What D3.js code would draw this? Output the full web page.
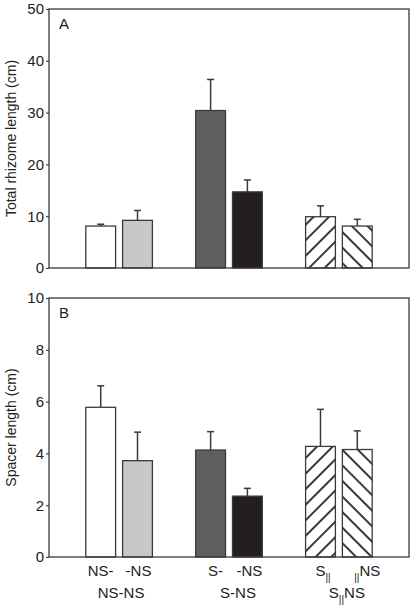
<!DOCTYPE html>
<html><head><meta charset="utf-8">
<script src="https://cdn.jsdelivr.net/npm/d3@7/dist/d3.min.js"></script>
<style>body{margin:0;background:#fff}svg{display:block;font-family:"Liberation Sans",Arial,sans-serif}</style>
</head><body>
<svg id="c" width="411" height="606"></svg>
<script>
const groups = ["NS-NS", "S-NS", "S||NS"];
const members = ["left", "right"];
const fills = ["#ffffff", "#c8c8ca", "#5e5f61", "#231f20", "url(#hatchF)", "url(#hatchB)"];
const valuesA = [8.1, 9.2, 30.4, 14.7, 9.9, 8.1];
const errA = [0.35, 1.9, 6.0, 2.3, 2.1, 1.3];
const valuesB = [5.78, 3.72, 4.13, 2.35, 4.27, 4.15];
const errB = [0.83, 1.1, 0.71, 0.3, 1.43, 0.72];
const ticksA = [0, 10, 20, 30, 40, 50];
const ticksB = [0, 2, 4, 6, 8, 10];

const svg = d3.select("#c");
const defs = svg.append("defs");
[["hatchF", 45], ["hatchB", -45]].forEach(([id, ang]) => {
  const p = defs.append("pattern").attr("id", id).attr("patternUnits", "userSpaceOnUse")
    .attr("width", 11).attr("height", 11).attr("patternTransform", `rotate(${ang})`);
  p.append("rect").attr("width", 11).attr("height", 11).attr("fill", "#fff");
  p.append("line").attr("x1", 1).attr("x2", 1).attr("y1", 0).attr("y2", 11)
    .attr("stroke", "#222").attr("stroke-width", 1.8);
});

const x0 = d3.scaleBand().domain(groups).range([49, 409]).paddingInner(0.394).paddingOuter(0.335);
const x1 = d3.scaleBand().domain(members).range([0, x0.bandwidth()]).paddingInner(0.19).paddingOuter(0);
const barX = i => x0(groups[Math.floor(i / 2)]) + x1(members[i % 2]);

function panel(top, bottom, max, ticks, vals, errs, letter, ylabel) {
  const y = d3.scaleLinear().domain([0, max]).range([bottom, top]);
  const g = svg.append("g");
  const ax = g.append("g").attr("transform", "translate(49,0)")
    .call(d3.axisLeft(y).tickValues(ticks).tickSize(3).tickPadding(2));
  ax.select(".domain").remove();
  ax.selectAll(".tick line").attr("stroke", "#444").attr("stroke-width", 1.2);
  ax.selectAll(".tick text").attr("font-size", 15).attr("fill", "#222")
    .attr("font-family", '"Liberation Sans",Arial,sans-serif');
  const idx = d3.range(vals.length);
  g.selectAll(".bar").data(idx).join("rect")
    .attr("x", i => barX(i)).attr("width", x1.bandwidth())
    .attr("y", i => y(vals[i])).attr("height", i => y(0) - y(vals[i]))
    .attr("fill", i => fills[i]).attr("stroke", "#3a3a3a").attr("stroke-width", 1.3);
  const cx = i => barX(i) + x1.bandwidth() / 2;
  g.selectAll(".eb").data(idx).join("line")
    .attr("x1", cx).attr("x2", cx).attr("y1", i => y(vals[i])).attr("y2", i => y(vals[i] + errs[i]))
    .attr("stroke", "#3a3a3a").attr("stroke-width", 1.5);
  g.selectAll(".cap").data(idx).join("line")
    .attr("x1", i => cx(i) - 3.5).attr("x2", i => cx(i) + 3.5)
    .attr("y1", i => y(vals[i] + errs[i])).attr("y2", i => y(vals[i] + errs[i]))
    .attr("stroke", "#3a3a3a").attr("stroke-width", 1.5);
  g.append("rect").attr("x", 49).attr("y", top).attr("width", 360).attr("height", bottom - top)
    .attr("fill", "none").attr("stroke", "#3a3a3a").attr("stroke-width", 1.3);
  g.append("text").attr("x", 59).attr("y", top + 20).attr("font-size", 15).attr("fill", "#222").text(letter);
  g.append("text").attr("transform", `translate(16,${(top + bottom) / 2}) rotate(-90)`)
    .attr("text-anchor", "middle").attr("font-size", 14).attr("fill", "#222").text(ylabel);
}
panel(9, 268, 50, ticksA, valuesA, errA, "A", "Total rhizome length (cm)");
panel(298, 557, 10, ticksB, valuesB, errB, "B", "Spacer length (cm)");

// x labels
const lab = svg.append("g").attr("font-size", 15).attr("fill", "#222");
const bc = i => barX(i) + x1.bandwidth() / 2;
const gc = k => x0(groups[k]) + x0.bandwidth() / 2;
lab.append("text").attr("x", bc(0)).attr("y", 576).attr("text-anchor", "middle").text("NS-");
lab.append("text").attr("x", bc(1) + 1).attr("y", 576).attr("text-anchor", "middle").text("-NS");
lab.append("text").attr("x", gc(0) + 2).attr("y", 598).attr("text-anchor", "middle").text("NS-NS");
lab.append("text").attr("x", bc(2) + 5).attr("y", 576).attr("text-anchor", "middle").text("S-");
lab.append("text").attr("x", bc(3) + 2).attr("y", 576).attr("text-anchor", "middle").text("-NS");
lab.append("text").attr("x", gc(1) + 9).attr("y", 598).attr("text-anchor", "middle").text("S-NS");
function sub(t) { t.append("tspan").attr("font-size", 10).attr("dy", 5).text("||"); }
let t = lab.append("text").attr("x", bc(4) - 5).attr("y", 576).attr("text-anchor", "start");
t.append("tspan").text("S"); sub(t);
t = lab.append("text").attr("x", bc(5) + 10).attr("y", 576).attr("text-anchor", "middle");
sub(t); t.append("tspan").attr("dy", -5).text("NS");
t = lab.append("text").attr("x", gc(2) + 8).attr("y", 598).attr("text-anchor", "middle");
t.append("tspan").text("S"); sub(t); t.append("tspan").attr("dy", -5).text("NS");
</script>
</body></html>
